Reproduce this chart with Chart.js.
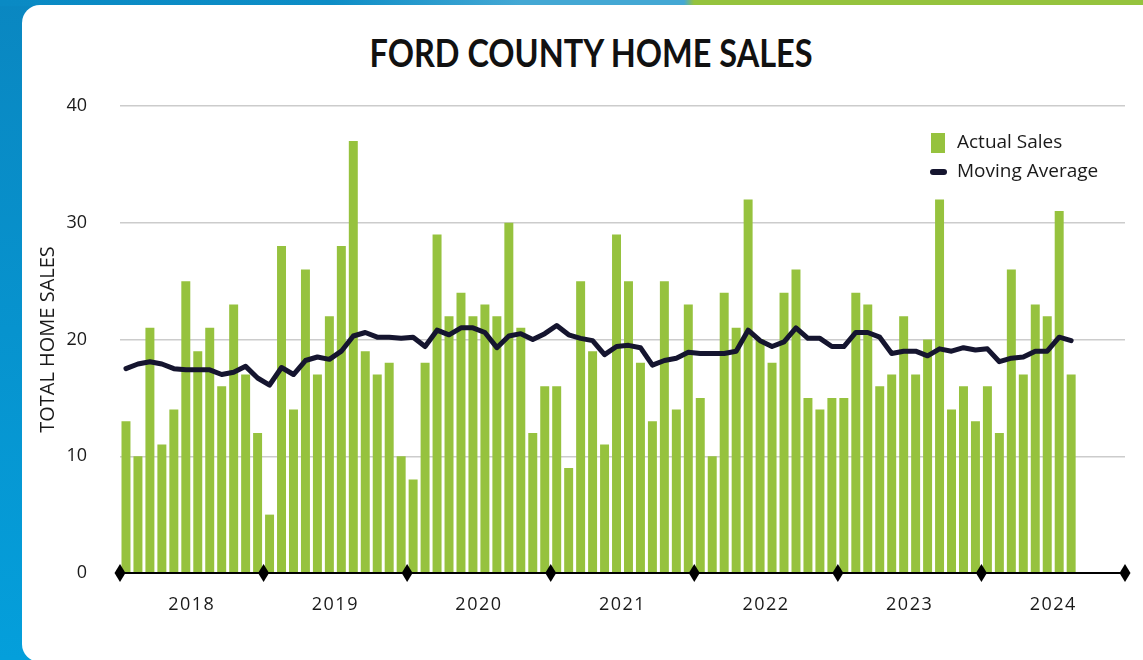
<!DOCTYPE html>
<html>
<head>
<meta charset="utf-8">
<title>Ford County Home Sales</title>
<script src="https://cdn.jsdelivr.net/npm/chart.js@4.4.1/dist/chart.umd.min.js"></script>
<style>
  html, body { margin: 0; padding: 0; }
  body {
    width: 1143px; height: 660px; overflow: hidden; position: relative;
    background: linear-gradient(to bottom, #0a87c1 0%, #049fdb 100%);
    font-family: 'Open Sans', sans-serif;
  }
  #topbar {
    position: absolute; left: 0; top: 0; width: 1143px; height: 6px;
    background: linear-gradient(to right, #0a8ac4 0px, #0d8dc6 330px, #44a8d4 520px,
      #44a8d4 684px, #95c33d 694px, #95c33d 1143px);
  }
  #card {
    position: absolute; left: 22px; top: 5px; width: 1140px; height: 657px;
    background: #fff; border-radius: 18px 0 0 18px;
  }
  #title {
    position: absolute; left: 0; top: 33px; width: 1183px; text-align: center;
    font: 700 39px/39px 'Lato', 'Open Sans', sans-serif; color: #111; white-space: nowrap;
  }
  #title span { display: inline-block; transform-origin: center; }
  canvas { position: absolute; left: 0; top: 0; }
</style>
</head>
<body>
<div id="topbar"></div>
<div id="card"></div>
<div id="title"><span>FORD COUNTY HOME SALES</span></div>
<canvas id="homeSales" width="1143" height="660"></canvas>
<script>
// monthly data, Jan 2018 - Aug 2024
const years = ['2018', '2019', '2020', '2021', '2022', '2023', '2024'];

const actualSales = [
  13, 10, 21, 11, 14, 25, 19, 21, 16, 23, 17, 12,   // 2018
  5, 28, 14, 26, 17, 22, 28, 37, 19, 17, 18, 10,    // 2019
  8, 18, 29, 22, 24, 22, 23, 22, 30, 21, 12, 16,    // 2020
  16, 9, 25, 19, 11, 29, 25, 18, 13, 25, 14, 23,    // 2021
  15, 10, 24, 21, 32, 20, 18, 24, 26, 15, 14, 15,   // 2022
  15, 24, 23, 16, 17, 22, 17, 20, 32, 14, 16, 13,   // 2023
  16, 12, 26, 17, 23, 22, 31, 17                    // 2024
];

const movingAverage = [
  17.5, 17.9, 18.1, 17.9, 17.5, 17.4, 17.4, 17.4, 17.0, 17.2, 17.7, 16.7,
  16.1, 17.6, 17.0, 18.2, 18.5, 18.3, 19.0, 20.3, 20.6, 20.2, 20.2, 20.1,
  20.2, 19.4, 20.8, 20.4, 21.0, 21.0, 20.6, 19.3, 20.3, 20.5, 20.0, 20.5,
  21.2, 20.4, 20.1, 19.9, 18.7, 19.4, 19.5, 19.3, 17.8, 18.2, 18.4, 18.9,
  18.8, 18.8, 18.8, 19.0, 20.8, 19.9, 19.4, 19.8, 21.0, 20.1, 20.1, 19.4,
  19.4, 20.6, 20.6, 20.2, 18.8, 19.0, 19.0, 18.6, 19.2, 19.0, 19.3, 19.1,
  19.2, 18.1, 18.4, 18.5, 19.0, 19.0, 20.2, 19.9
];

const yTicks = [0, 10, 20, 30, 40];

const GREEN = '#96c23e';
const NAVY = '#15152f';
const TEXT = '#1a1a1a';

// squeeze the title to the condensed width of the original
const titleSpan = document.querySelector('#title span');
titleSpan.style.transform = 'scaleX(' + (443 / titleSpan.offsetWidth) + ')';

// diamonds on the year boundaries + custom legend
const decor = {
  id: 'decor',
  beforeDraw(chart) {
    chart.ctx.letterSpacing = '0px';
  },
  afterDatasetsDraw(chart) {
    // x tick labels are drawn after this (ticks.z = 1) and are spaced out
    chart.ctx.letterSpacing = '1.5px';
  },
  afterDraw(chart) {
    const ctx = chart.ctx;
    ctx.letterSpacing = '0px';
    const xs = chart.scales.x;
    const ys = chart.scales.y;
    const base = ys.getPixelForValue(0);

    ctx.save();
    ctx.fillStyle = '#000';
    for (let k = 0; k <= years.length; k++) {
      const px = xs.getPixelForValue(12 * k);
      ctx.beginPath();
      ctx.moveTo(px, base - 9);
      ctx.lineTo(px + 5.5, base);
      ctx.lineTo(px, base + 9);
      ctx.lineTo(px - 5.5, base);
      ctx.closePath();
      ctx.fill();
    }

    const lx = chart.chartArea.right - 194;
    ctx.fillStyle = GREEN;
    ctx.fillRect(lx, 133, 14, 20);
    ctx.strokeStyle = NAVY;
    ctx.lineWidth = 6;
    ctx.lineCap = 'round';
    ctx.beginPath();
    ctx.moveTo(lx + 2, 172);
    ctx.lineTo(lx + 13, 172);
    ctx.stroke();

    ctx.fillStyle = TEXT;
    ctx.font = '19px "Open Sans", sans-serif';
    ctx.textBaseline = 'middle';
    ctx.textAlign = 'left';
    ctx.fillText('Actual Sales', lx + 26, 143);
    ctx.fillText('Moving Average', lx + 26, 172);
    ctx.restore();
  }
};

const canvas = document.getElementById('homeSales');
const ctx = canvas.getContext('2d');

const chart = new Chart(ctx, {
  type: 'bar',
  data: {
    datasets: [
      {
        type: 'line',
        label: 'Moving Average',
        data: movingAverage.map((v, i) => ({ x: i + 0.5, y: v })),
        borderColor: NAVY,
        borderWidth: 5,
        pointRadius: 0,
        tension: 0,
        borderJoinStyle: 'round',
        borderCapStyle: 'round',
        order: 0
      },
      {
        type: 'bar',
        label: 'Actual Sales',
        data: actualSales.map((v, i) => ({ x: i + 0.5, y: v })),
        backgroundColor: GREEN,
        barPercentage: 0.75,
        categoryPercentage: 1,
        order: 1
      }
    ]
  },
  options: {
    responsive: false,
    animation: false,
    layout: { padding: { left: 36, right: 18, top: 106, bottom: 27 } },
    plugins: {
      legend: { display: false },
      title: { display: false },
      tooltip: { enabled: false }
    },
    scales: {
      x: {
        type: 'linear',
        min: 0,
        max: years.length * 12,
        offset: false,
        grid: { display: false },
        border: { display: true, color: '#000', width: 2, z: 1 },
        afterBuildTicks: s => { s.ticks = years.map((y, i) => ({ value: 12 * i + 6 })); },
        afterFit: s => { s.height = 60; },
        ticks: {
          z: 1,
          autoSkip: false,
          maxRotation: 0,
          padding: 13,
          color: TEXT,
          font: { family: 'Open Sans', size: 18 },
          callback: v => years[Math.round((v - 6) / 12)]
        }
      },
      y: {
        min: 0,
        max: 40,
        afterBuildTicks: s => { s.ticks = yTicks.map(v => ({ value: v })); },
        afterFit: s => { s.width = 84; },
        grid: { color: '#cccccc', lineWidth: 1.5, drawTicks: false },
        border: { display: false },
        ticks: {
          padding: 33,
          color: TEXT,
          font: { family: 'Open Sans', size: 18 }
        },
        title: {
          display: true,
          text: 'TOTAL HOME SALES',
          color: TEXT,
          font: { family: 'Open Sans', size: 20 },
          padding: { top: 0, bottom: 0 }
        }
      }
    }
  },
  plugins: [decor]
});
</script>
</body>
</html>
